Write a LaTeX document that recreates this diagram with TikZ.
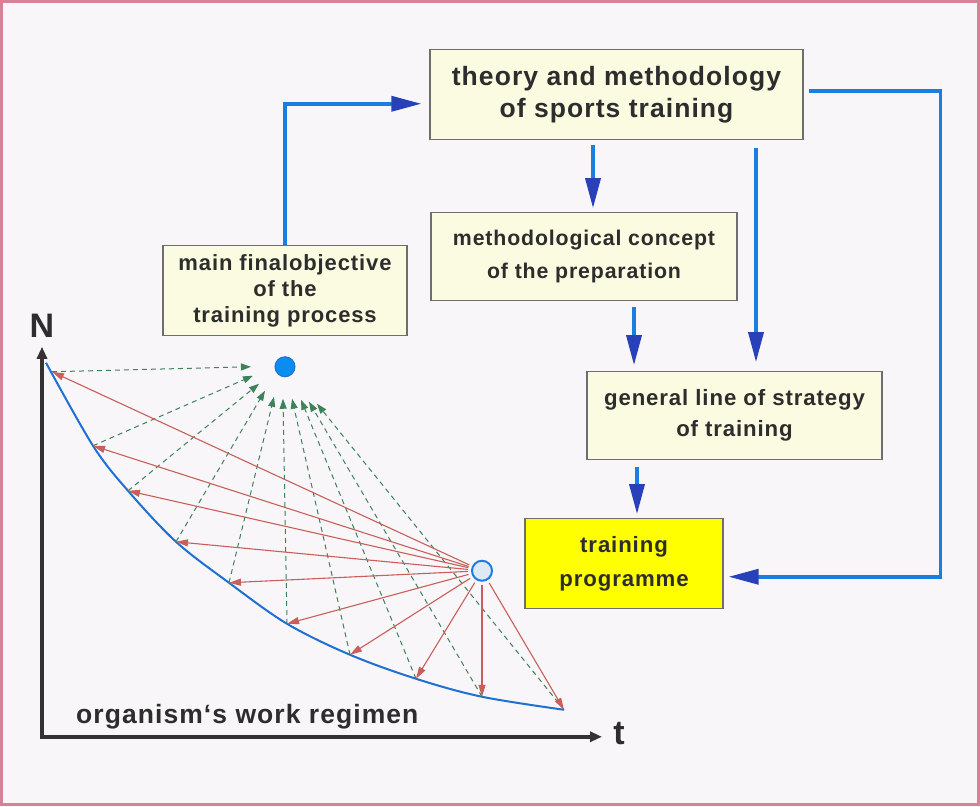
\documentclass[tikz,border=0pt]{standalone}
\usepackage{fontspec}
\setmainfont{Liberation Sans}
\newfontfamily\lab[LetterSpace=4]{Liberation Sans}
\usetikzlibrary{arrows.meta}
\definecolor{bgc}{RGB}{248,246,248}
\definecolor{pinkb}{RGB}{214,130,150}
\definecolor{boxfill}{RGB}{250,251,224}
\definecolor{boxline}{RGB}{110,110,110}
\definecolor{prog}{RGB}{255,255,0}
\definecolor{lblue}{RGB}{26,126,224}
\definecolor{hblue}{RGB}{40,64,184}
\definecolor{txt}{RGB}{45,45,45}
\definecolor{redar}{RGB}{200,95,90}
\definecolor{grn}{RGB}{60,130,90}
\definecolor{axc}{RGB}{55,50,50}
\definecolor{curvec}{RGB}{30,112,210}
\definecolor{dotb}{RGB}{10,140,240}
\definecolor{dotl}{RGB}{222,233,246}
\begin{document}
\begin{tikzpicture}[x=1pt,y=-1pt,
 box/.style={draw=boxline, line width=1.2pt, fill=boxfill, text=txt, align=center, inner sep=0pt},
 flow/.style={draw=lblue, line width=3.5pt, -{Triangle[length=30pt,width=15pt,color=hblue]}},
 fan/.style={draw=redar, line width=1.1pt, shorten <=3pt, -{Triangle[length=12pt,width=7pt]}},
 back/.style={draw=grn, line width=1pt, dash pattern=on 5pt off 4pt, -{Triangle[length=10pt,width=7pt]}},
 axis/.style={draw=axc, line width=3.5pt, {Triangle[length=12pt,width=10pt]}-{Triangle[length=12pt,width=10pt]}},
 lbl/.style={text=txt, inner sep=0pt, font=\lab\bfseries\fontsize{26.5}{30}\selectfont},
]
\fill[bgc] (0,0) rectangle (980,806);
\draw[pinkb, line width=2.5pt] (1.5,0.5) rectangle (978.5,803.5);

% boxes
\node[box, minimum width=373pt, minimum height=90pt, font=\lab\bfseries\fontsize{26.5}{32}\selectfont] (theory) at (616.5,94) {theory and methodology\\of sports training};
\node[box, minimum width=306pt, minimum height=88pt, font=\lab\bfseries\fontsize{21.3}{33}\selectfont] (meth) at (584,256) {methodological concept\\of the preparation};
\node[box, minimum width=295pt, minimum height=88pt, font=\lab\bfseries\fontsize{22.2}{31}\selectfont] (general) at (734.5,415) {general line of strategy\\of training};
\node[box, fill=prog, minimum width=198pt, minimum height=90pt, font=\lab\bfseries\fontsize{22.2}{34}\selectfont] (training) at (624,563) {training\\programme};
\node[box, minimum width=244pt, minimum height=90pt, font=\lab\bfseries\fontsize{22}{26}\selectfont] (main) at (285,290) {main finalobjective\\of the\\training process};

% connectors
\draw[flow] (main.north) |- ([xshift=-8pt,yshift=-9pt]theory.west);
\draw[flow] ([xshift=-23.5pt,yshift=-5pt]theory.south) -- ([xshift=9pt,yshift=4pt]meth.north);
\draw[flow] ([xshift=139.5pt,yshift=-8pt]theory.south) -- ([xshift=21.5pt,yshift=9pt]general.north);
\draw[flow] ([xshift=50pt,yshift=-6pt]meth.south) -- ([xshift=-100.5pt,yshift=6pt]general.north);
\draw[flow] ([xshift=-97.5pt,yshift=-7pt]general.south) -- ([xshift=13pt,yshift=4pt]training.north);
\draw[flow] ([xshift=5pt,yshift=4pt]theory.east) -- ++(132pt,0pt) |- ([xshift=5pt,yshift=-13pt]training.east);

% graph
\coordinate (O) at (42,736);
\coordinate (ytip) at (42,346);
\coordinate (xtip) at (602,736);
\draw[axis] (ytip) -- (O) -- (xtip);
\node[lbl, font=\lab\bfseries\fontsize{34}{34}\selectfont] (nlab) at (42,325) {N};
\node[lbl, font=\lab\bfseries\fontsize{34}{34}\selectfont] (tlab) at (619,733) {t};
\node[lbl, anchor=base west] (work) at (76,723) {organism‘s work regimen};

\draw[curvec, line width=2pt] plot[smooth, tension=0.55] coordinates {(46,362) (93,445) (128,490) (176,541) (229,582) (287,623) (350,654) (416,678) (482,696) (564,709)};

\coordinate (c1) at (52,371);
\coordinate (c2) at (93,445);
\coordinate (c3) at (128,490);
\coordinate (c4) at (176,541);
\coordinate (c5) at (229,582);
\coordinate (c6) at (287,623);
\coordinate (c7) at (350,654);
\coordinate (c8) at (416,678);
\coordinate (c9) at (482,696);
\coordinate (c10) at (564,709);

\coordinate (g1) at (251,366);
\coordinate (g2) at (253,375);
\coordinate (g3) at (259,383);
\coordinate (g4) at (265,390);
\coordinate (g5) at (274,396);
\coordinate (g6) at (283,398);
\coordinate (g7) at (292,398);
\coordinate (g8) at (301,399);
\coordinate (g9) at (309,401);
\coordinate (g10) at (317,403);

\node[circle, fill=dotb, draw=curvec, line width=1pt, minimum size=20pt, inner sep=0pt] (bd) at (285,366) {};
\node[circle, fill=dotl, draw=lblue, line width=2pt, minimum size=20pt, inner sep=0pt] (lc) at (482,570) {};

\foreach \i in {1,...,10} {
  \draw[back] (c\i) -- (g\i);
}
\foreach \i in {1,...,10} {
  \draw[fan] (lc) -- (c\i);
}
\end{tikzpicture}
\end{document}
